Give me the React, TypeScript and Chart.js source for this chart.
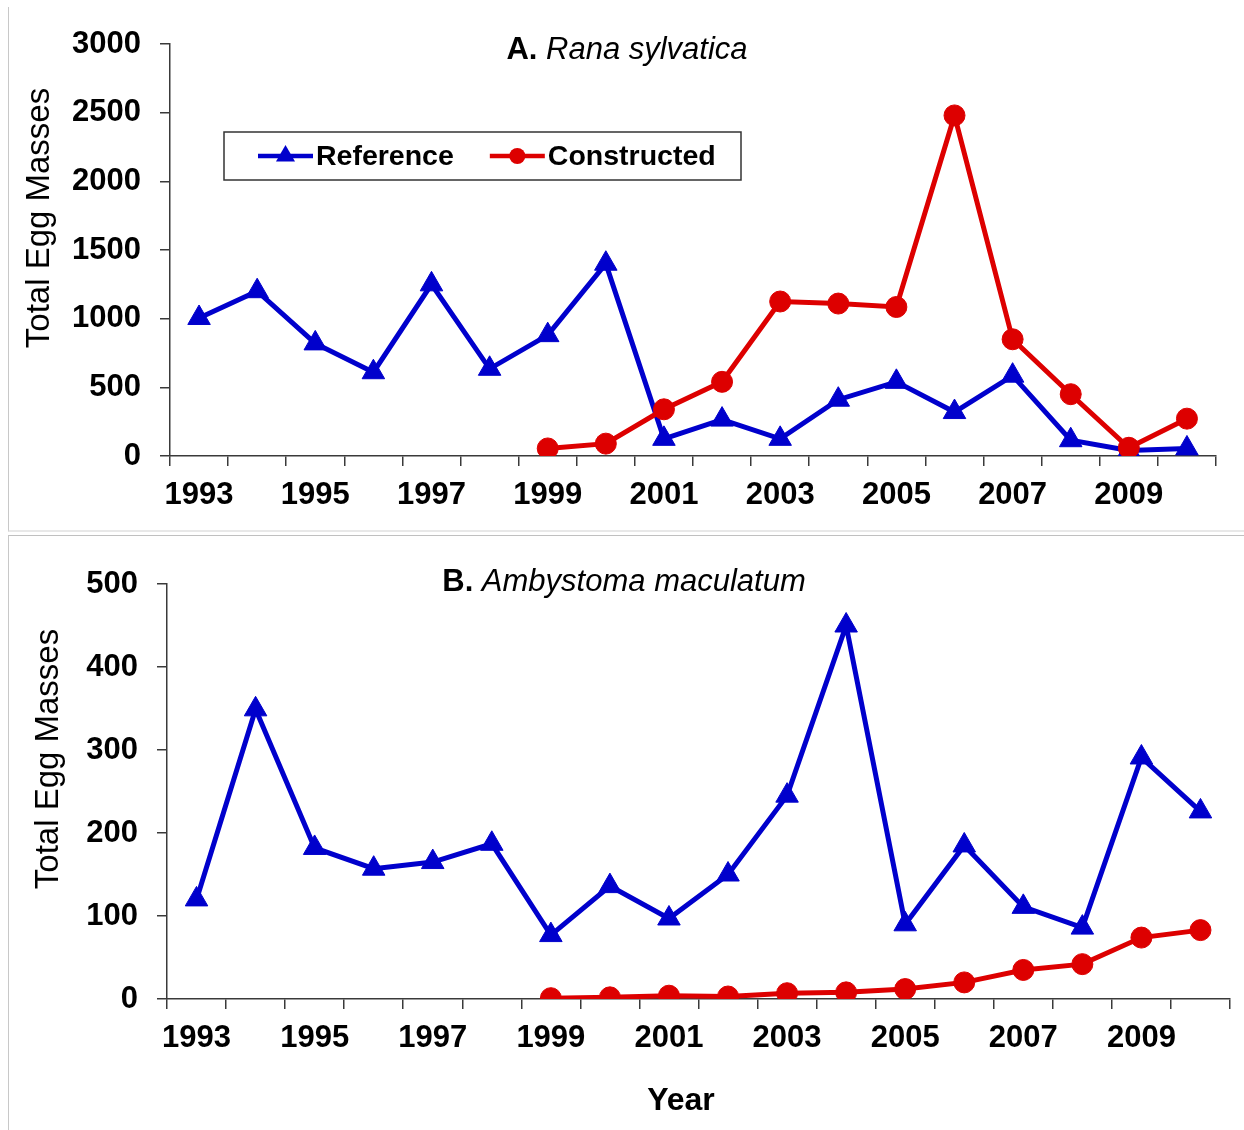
import React, { useEffect, useRef } from 'react';
import { Chart, registerables } from 'chart.js';

Chart.register(...registerables);

const FONT = '"Liberation Sans", Arial, Helvetica, sans-serif';

const years = ['1993', '1994', '1995', '1996', '1997', '1998', '1999', '2000', '2001', '2002', '2003', '2004', '2005', '2006', '2007', '2008', '2009', '2010'];

const ranaReference = [1005, 1200, 820, 610, 1250, 635, 880, 1400, 125, 265, 125, 410, 540, 320, 585, 115, 40, 55];
const ranaConstructed = [null, null, null, null, null, null, 55, 90, 340, 540, 1125, 1110, 1085, 2480, 850, 450, 60, 272];

const ambyReference = [120, 349, 182, 157, 165, 187, 77, 136, 97, 150, 245, 450, 90, 185, 111, 86, 291, 226];
const ambyConstructed = [null, null, null, null, null, null, 1, 2, 4, 3, 7, 8, 12, 20, 35, 42, 74, 83];

const seriesNames = ['Reference', 'Constructed'];
const BLUE = '#0000CC';
const RED = '#DD0000';
const AXIS = '#3a3a3a';

const decorPlugin = {
  id: 'decor',
  afterDraw(chart: any, _args: any, opts: any) {
    const ctx = chart.ctx as CanvasRenderingContext2D;
    ctx.save();
    ctx.fillStyle = '#000';
    if (opts.title) {
      const { prefix, name, cx, baseline, size } = opts.title;
      ctx.font = `bold ${size}px ${FONT}`;
      const w1 = ctx.measureText(prefix).width;
      ctx.font = `italic ${size}px ${FONT}`;
      const w2 = ctx.measureText(name).width;
      const x = cx - (w1 + w2) / 2;
      ctx.textAlign = 'left';
      ctx.textBaseline = 'alphabetic';
      ctx.font = `bold ${size}px ${FONT}`;
      ctx.fillText(prefix, x, baseline);
      ctx.font = `italic ${size}px ${FONT}`;
      ctx.fillText(name, x + w1, baseline);
    }
    if (opts.yTitle) {
      const { text, cx, cy, size } = opts.yTitle;
      ctx.save();
      ctx.translate(cx, cy);
      ctx.rotate(-Math.PI / 2);
      ctx.font = `${size}px ${FONT}`;
      ctx.textAlign = 'center';
      ctx.textBaseline = 'middle';
      ctx.fillText(text, 0, 0);
      ctx.restore();
    }
    if (opts.xTitle) {
      const { text, cx, cy, size } = opts.xTitle;
      ctx.font = `bold ${size}px ${FONT}`;
      ctx.textAlign = 'center';
      ctx.textBaseline = 'middle';
      ctx.fillText(text, cx, cy);
    }
    if (opts.legend) {
      const { left, top, width, height, size, padLeft, lineLen, textGap, itemGap } = opts.legend;
      ctx.strokeStyle = '#333';
      ctx.lineWidth = 1.5;
      ctx.strokeRect(left, top, width, height);
      const cy = top + height / 2;
      let x = left + padLeft;
      const sets = chart.data.datasets;
      ctx.font = `bold ${size}px ${FONT}`;
      ctx.textAlign = 'left';
      ctx.textBaseline = 'middle';
      for (const ds of sets) {
        ctx.strokeStyle = ds.borderColor;
        ctx.lineWidth = 4.5;
        ctx.beginPath();
        ctx.moveTo(x, cy);
        ctx.lineTo(x + lineLen, cy);
        ctx.stroke();
        const mx = x + lineLen / 2;
        ctx.fillStyle = ds.borderColor;
        ctx.beginPath();
        if (ds.pointStyle === 'triangle') {
          const r = 11;
          ctx.moveTo(mx, cy - r);
          ctx.lineTo(mx + r * 0.866, cy + r * 0.5);
          ctx.lineTo(mx - r * 0.866, cy + r * 0.5);
          ctx.closePath();
        } else {
          ctx.arc(mx, cy, 8, 0, Math.PI * 2);
        }
        ctx.fill();
        ctx.fillStyle = '#000';
        const tx = x + lineLen + textGap;
        ctx.fillText(ds.label, tx, cy + 1);
        x = tx + ctx.measureText(ds.label).width + itemGap;
      }
    }
    ctx.restore();
  },
};

function makeConfig(p: any) {
  return {
    type: 'line',
    data: {
      labels: years,
      datasets: [
        {
          label: seriesNames[0],
          data: p.reference,
          borderColor: BLUE,
          backgroundColor: BLUE,
          borderWidth: 5,
          pointStyle: 'triangle',
          pointRadius: 13,
          pointBorderWidth: 1,
          pointBackgroundColor: BLUE,
          pointBorderColor: BLUE,
          tension: 0,
          order: 1,
        },
        {
          label: seriesNames[1],
          data: p.constructed,
          borderColor: RED,
          backgroundColor: RED,
          borderWidth: 5,
          pointStyle: 'circle',
          pointRadius: 10.5,
          pointBorderWidth: 1,
          pointBackgroundColor: RED,
          pointBorderColor: RED,
          tension: 0,
          spanGaps: false,
          order: 0,
        },
      ],
    },
    options: {
      responsive: false,
      animation: false,
      layout: { padding: { left: 0, top: p.padTop, right: p.padRight, bottom: 0 } },
      plugins: {
        legend: { display: false },
        title: { display: false },
        tooltip: { enabled: false },
        decor: p.decor,
      },
      scales: {
        x: {
          type: 'category',
          offset: true,
          afterFit: (s: any) => { s.height = p.xHeight; },
          grid: { offset: true, drawOnChartArea: false, drawTicks: true, tickLength: 10, color: AXIS, lineWidth: 1.5 },
          border: { display: true, color: AXIS, width: 1.5 },
          ticks: {
            autoSkip: false,
            maxRotation: 0,
            minRotation: 0,
            padding: 11,
            color: '#000',
            font: { family: FONT, size: 31, weight: 'bold' },
            callback: (_v: any, i: number) => (i % 2 === 0 ? years[i] : ''),
          },
        },
        y: {
          min: 0,
          max: p.yMax,
          afterFit: (s: any) => { s.width = p.yWidth; },
          grid: { drawOnChartArea: false, drawTicks: true, tickLength: 10, color: AXIS, lineWidth: 1.5 },
          border: { display: true, color: AXIS, width: 1.5 },
          ticks: {
            stepSize: p.yStep,
            padding: 19,
            color: '#000',
            font: { family: FONT, size: 31, weight: 'bold' },
            callback: (v: any) => String(v),
          },
        },
      },
    },
    plugins: [decorPlugin],
  };
}

function Panel(props: { width: number; height: number; cfg: any }) {
  const ref = useRef<HTMLCanvasElement>(null);
  useEffect(() => {
    const chart = new Chart(ref.current as HTMLCanvasElement, props.cfg as any);
    return () => chart.destroy();
  }, []);
  return (
    <canvas
      ref={ref}
      width={props.width}
      height={props.height}
      style={{ display: 'block', width: props.width, height: props.height }}
    />
  );
}

const cfgA = makeConfig({
  reference: ranaReference,
  constructed: ranaConstructed,
  yMax: 3000,
  yStep: 500,
  padTop: 44,
  padRight: 28,
  xHeight: 74,
  yWidth: 170,
  decor: {
    title: { prefix: 'A. ', name: 'Rana sylvatica', cx: 627, baseline: 59, size: 31 },
    yTitle: { text: 'Total Egg Masses', cx: 40, cy: 218, size: 33 },
    legend: { left: 224, top: 132, width: 517, height: 48, size: 28.5, padLeft: 34, lineLen: 55, textGap: 3, itemGap: 36 },
  },
});

const cfgB = makeConfig({
  reference: ambyReference,
  constructed: ambyConstructed,
  yMax: 500,
  yStep: 100,
  padTop: 49,
  padRight: 13,
  xHeight: 131,
  yWidth: 167,
  decor: {
    title: { prefix: 'B. ', name: 'Ambystoma maculatum', cx: 624, baseline: 56, size: 31 },
    yTitle: { text: 'Total Egg Masses', cx: 49, cy: 224, size: 33 },
    xTitle: { text: 'Year', cx: 681, cy: 566, size: 32 },
  },
});

export default function App() {
  return (
    <div style={{ position: 'absolute', left: 0, top: 0, width: 1244, height: 1130, background: '#fff', overflow: 'hidden' }}>
      <div style={{ position: 'absolute', left: 8, top: 7, width: 1240, height: 523, borderLeft: '1px solid #c8c8c8', borderBottom: '2px solid #e8e8e8' }} />
      <div style={{ position: 'absolute', left: 8, top: 535, width: 1240, height: 600, borderLeft: '1px solid #c8c8c8', borderTop: '1px solid #c0c0c0' }} />
      <div style={{ position: 'absolute', left: 0, top: 0 }}>
        <Panel width={1244} height={530} cfg={cfgA} />
      </div>
      <div style={{ position: 'absolute', left: 0, top: 535 }}>
        <Panel width={1244} height={595} cfg={cfgB} />
      </div>
    </div>
  );
}
